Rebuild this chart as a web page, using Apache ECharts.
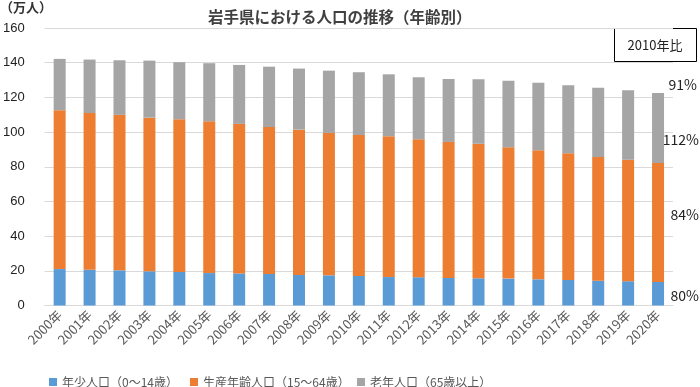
<!DOCTYPE html>
<html><head><meta charset="utf-8">
<script src="https://cdn.jsdelivr.net/npm/echarts@6/dist/echarts.min.js"></script>
<style>html,body{margin:0;padding:0;background:#fff}#c{width:700px;height:387px}</style>
</head><body><div id="c"></div>
<script>
const years = ['2000年','2001年','2002年','2003年','2004年','2005年','2006年','2007年','2008年','2009年','2010年','2011年','2012年','2013年','2014年','2015年','2016年','2017年','2018年','2019年','2020年'];
const youth = [21.0,20.6,20.3,19.7,19.3,18.7,18.5,18.2,17.6,17.4,17.0,16.4,16.3,15.9,15.7,15.5,15.1,14.7,14.3,14.0,13.6];
const working = [91.6,90.4,89.6,88.6,88.1,87.5,86.2,84.7,83.8,82.1,81.3,81.2,79.5,78.4,77.6,75.7,74.4,73.1,71.3,70.1,68.6];
const elderly = [29.6,30.8,31.5,32.9,32.9,33.5,34.0,34.8,35.2,35.9,36.2,35.7,35.8,36.3,37.1,38.4,39.0,39.2,40.0,40.0,40.3];
const seriesNames = ['年少人口（0〜14歳）','生産年齢人口（15〜64歳）','老年人口（65歳以上）'];
const ratioLabels = ['91%','112%','84%','80%'];
const yTicks = [0,20,40,60,80,100,120,140,160];

const FONT = '"Noto Sans CJK JP", "Noto Sans", sans-serif';
const chart = echarts.init(document.getElementById('c'), null, {renderer:'canvas'});
const colors = ['#5b9bd5','#ed7d31','#a5a5a5'];
const legendX = [44, 185, 352];

chart.setOption({
  animation: false,
  textStyle: {fontFamily: FONT},
  title: {
    text: '岩手県における人口の推移（年齢別）',
    left: 203, top: 4,
    textStyle: {fontSize: 15.5, fontWeight: 'bold', color: '#404040', fontFamily: FONT}
  },
  legend: seriesNames.map((n, i) => ({
    data: [n], left: legendX[i], top: 371,
    itemWidth: 8, itemHeight: 8, icon: 'rect', itemGap: 4,
    textStyle: {fontSize: 12, color: '#595959', fontFamily: FONT}
  })),
  grid: {left: 41, right: 27, top: 28, bottom: 81.5, containLabel: false},
  xAxis: {
    type: 'category', data: years,
    axisLine: {lineStyle: {color: '#d9d9d9', width: 1}},
    axisTick: {show: false},
    axisLabel: {rotate: 45, interval: 0, fontSize: 13, color: '#595959', margin: 7, fontFamily: FONT}
  },
  yAxis: {
    type: 'value', min: yTicks[0], max: yTicks[yTicks.length-1], interval: 20,
    axisLine: {show: false}, axisTick: {show: false},
    axisLabel: {fontSize: 13, color: '#222', margin: 20, fontFamily: '"Liberation Sans", Arial, sans-serif'},
    splitLine: {lineStyle: {color: '#d9d9d9', width: 1}}
  },
  series: [youth, working, elderly].map((d, i) => ({
    name: seriesNames[i], type: 'bar', stack: 'pop', data: d,
    barWidth: 12, itemStyle: {color: colors[i]}
  })),
  graphic: [
    {type: 'text', left: 0, top: 1, style: {text: '（万人）', font: 'bold 13px ' + FONT, fill: '#333'}},
    {type: 'rect', shape: {x: 614.5, y: 28.5, width: 82, height: 33}, style: {fill: '#fff', stroke: '#000', lineWidth: 1}},
    {type: 'text', x: 655, y: 45, style: {text: '2010年比', font: '13px ' + FONT, fill: '#222', align: 'center', verticalAlign: 'middle'}},
    {type: 'text', x: 697, y: 85, style: {text: ratioLabels[0], font: '14px ' + FONT, fill: '#222', align: 'right', verticalAlign: 'middle'}},
    {type: 'text', x: 699, y: 140, style: {text: ratioLabels[1], font: '14px ' + FONT, fill: '#222', align: 'right', verticalAlign: 'middle'}},
    {type: 'text', x: 699, y: 215, style: {text: ratioLabels[2], font: '14px ' + FONT, fill: '#222', align: 'right', verticalAlign: 'middle'}},
    {type: 'text', x: 699, y: 296, style: {text: ratioLabels[3], font: '14px ' + FONT, fill: '#222', align: 'right', verticalAlign: 'middle'}}
  ]
});
</script></body></html>
